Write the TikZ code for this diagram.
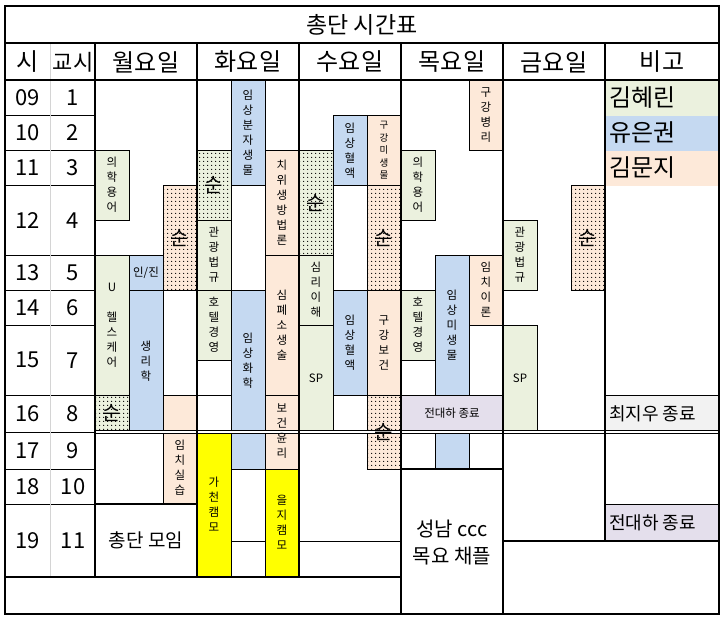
\documentclass[tikz,border=0pt]{standalone}
\usepackage{fontspec}
\setmainfont{Noto Sans CJK KR}
\usetikzlibrary{patterns.meta}
\definecolor{cgreen}{HTML}{EBF1DE}
\definecolor{cblue}{HTML}{C5D9F1}
\definecolor{cpink}{HTML}{FDE9D9}
\definecolor{cyel}{HTML}{FFFF00}
\definecolor{clav}{HTML}{E4DFEC}
\definecolor{cgray}{HTML}{F2F2F2}
\definecolor{csep}{HTML}{D4D4D4}
\newcommand\cbox[3]{\path[thinl,fill=#1] #2 rectangle #3;}
\newcommand\dbox[3]{\fill[#1] #2 rectangle #3;
  \fill[pattern={Dots[distance=4pt,radius=0.75pt]},pattern color=black] #2 rectangle #3;
  \draw[thinl] #2 rectangle #3;}
\begin{document}
\begin{tikzpicture}[x=1pt,y=-1pt,
  thinl/.style={draw=black,line width=1pt},
  thickl/.style={draw=black,line width=2pt},
  vt/.style={font=\fontsize{11.5}{15}\selectfont,align=center,inner sep=0pt},
  vts/.style={font=\fontsize{9.5}{12.5}\selectfont,align=center,inner sep=0pt},
  ht/.style={font=\fontsize{11.5}{14}\selectfont,inner sep=0pt},
  big/.style={font=\fontsize{22}{26}\selectfont,inner sep=0pt},
  head/.style={font=\fontsize{24}{28}\selectfont,inner sep=0pt},
  sun/.style={font=\fontsize{20}{24}\selectfont,inner sep=0pt},
  mid/.style={font=\fontsize{18}{22}\selectfont,inner sep=0pt},
]
\useasboundingbox (0,0) rectangle (726,621);
\fill[white] (0,0) rectangle (726,621);
% Monday
\cbox{cgreen}{(95,150.5)}{(129,220)}
\dbox{cpink}{(163,185.5)}{(197,290)}
\cbox{cgreen}{(95,255)}{(129,395)}
\cbox{cblue}{(129,255)}{(163,290)}
\cbox{cblue}{(129,290)}{(163,432)}
\dbox{cgreen}{(95,395)}{(129,432)}
\cbox{cpink}{(163,395)}{(197,432)}
\cbox{cpink}{(163,432)}{(197,504)}
% Tuesday
\dbox{cgreen}{(197,150.5)}{(231,220)}
\cbox{cgreen}{(197,220)}{(231,290)}
\cbox{cgreen}{(197,290)}{(231,360)}
\cbox{white}{(197,360)}{(231,395)}
\cbox{cblue}{(231,80)}{(265,185.5)}
\cbox{cblue}{(231,290)}{(265,469)}
\cbox{cpink}{(265,150.5)}{(299,255)}
\cbox{cpink}{(265,255)}{(299,395)}
\cbox{cpink}{(265,395)}{(299,469)}
\cbox{cyel}{(265,469)}{(299,577)}
\cbox{cyel}{(197,433)}{(231,577)}
\draw[thinl] (231,541) -- (265,541);
% Wednesday
\dbox{cgreen}{(299,150.5)}{(333,255)}
\cbox{cgreen}{(299,255)}{(333,325.5)}
\cbox{cgreen}{(299,325.5)}{(333,432)}
\cbox{cblue}{(333,115.5)}{(367,185.5)}
\cbox{cpink}{(367,115.5)}{(401,185.5)}
\dbox{cpink}{(367,185.5)}{(401,290)}
\cbox{cblue}{(333,290)}{(367,395)}
\cbox{cpink}{(367,290)}{(401,395)}
\dbox{cpink}{(367,395)}{(401,469)}
\draw[thinl] (299,541) -- (401,541);
% Thursday
\cbox{cpink}{(469,80)}{(503,150.5)}
\cbox{cgreen}{(401,150.5)}{(435,220)}
\cbox{cblue}{(435,255)}{(469,395)}
\cbox{cpink}{(469,255)}{(503,325.5)}
\cbox{cgreen}{(401,290)}{(435,360)}
\cbox{clav}{(401,395)}{(503,432)}
\cbox{cblue}{(435,432)}{(469,469)}
% Friday
\cbox{cgreen}{(503,220)}{(537,290)}
\dbox{cpink}{(571,185.5)}{(605,290)}
\cbox{cgreen}{(503,325.5)}{(537,432)}
% Remarks
\fill[cgreen] (605,80) rectangle (719,115.5);
\fill[cblue] (605,115.5) rectangle (719,150.5);
\fill[cpink] (605,150.5) rectangle (719,185.5);
\cbox{cgray}{(605,395)}{(719,432)}
\cbox{clav}{(605,504)}{(719,541)}
% double line
\draw[white,line width=2.4pt] (95,432.1) -- (719,432.1);
\draw[line width=0.9pt] (95,430.5) -- (719,430.5) (95,433.7) -- (719,433.7);
% left columns
\foreach \y in {115.5,150.5,185.5,255,290,325.5,395,432,469,504}
  \draw[thinl] (5,\y) -- (95,\y);
\draw[csep,line width=1pt] (50.7,43) -- (50.7,577);
% thick grid
\draw[thickl] (5,6) rectangle (719,614);
\draw[thickl] (5,43) -- (719,43);
\draw[thickl] (5,80) -- (719,80);
\draw[thickl] (95,43) -- (95,577);
\draw[thickl] (197,43) -- (197,577);
\draw[thickl] (299,43) -- (299,577);
\draw[thickl] (401,43) -- (401,614);
\draw[thickl] (503,43) -- (503,614);
\draw[thickl] (605,43) -- (605,541);
\draw[thickl] (5,577) -- (401,577);
\draw[thickl] (503,541) -- (719,541);
\draw[thickl] (95,504) -- (197,504);
\draw[thickl] (401,469) -- (503,469);
% title and header
\node[font=\fontsize{23}{27}\selectfont,inner sep=0pt] (title) at (362,25) {총단 시간표};
\node[head] (hsi) at (28,62) {시};
\node[font=\fontsize{22}{26}\selectfont,inner sep=0pt] (hgyo) at (73,62) {교시};
\node[head] (hmon) at (146,62) {월요일};
\node[head] (htue) at (248,62) {화요일};
\node[head] (hwed) at (350,62) {수요일};
\node[head] (hthu) at (452,62) {목요일};
\node[head] (hfri) at (554,62) {금요일};
\node[head] (hrem) at (662,62) {비고};
% hours and periods
\foreach \h/\p/\y [count=\i] in {09/1/97.75,10/2/133,11/3/168,12/4/220.25,13/5/272.5,14/6/307.75,15/7/360.25,16/8/413.5,17/9/450.5,18/10/486.5,19/11/540.5}{
  \node[big] (hour\i) at (28,\y) {\h};
  \node[big] (per\i) at (73,\y) {\p};
}
% Monday texts
\node[vt] (m1) at (112,185) {의\\학\\용\\어};
\node[sun] (m2) at (180,237.7) {순};
\node[vt] (m3) at (112,325) {U\\ \\헬\\스\\케\\어};
\node[ht] (m4) at (146,272.5) {인/진};
\node[vt] (m5) at (146,361) {생\\리\\학};
\node[sun] (m6) at (112,413.5) {순};
\node[vt] (m7) at (180,468) {임\\치\\실\\습};
\node[font=\fontsize{19}{23}\selectfont,inner sep=0pt] (m8) at (146,540.5) {총단 모임};
% Tuesday texts
\node[sun] (t1) at (214,185) {순};
\node[vt] (t2) at (214,255) {관\\광\\법\\규};
\node[vt] (t3) at (214,325) {호\\텔\\경\\영};
\node[vt] (t4) at (248,132.7) {임\\상\\분\\자\\생\\물};
\node[vt] (t5) at (248,361) {임\\상\\화\\학};
\node[vt] (t6) at (282,202.7) {치\\위\\생\\방\\법\\론};
\node[vt] (t7) at (282,325) {심\\폐\\소\\생\\술};
\node[vt] (t8) at (282,431) {보\\건\\윤\\리};
\node[vt] (t9) at (214,504.5) {가\\천\\캠\\모};
\node[vt] (t10) at (282,522) {을\\지\\캠\\모};
% Wednesday texts
\node[sun] (w1) at (316,202.7) {순};
\node[vt] (w2) at (316,290) {심\\리\\이\\해};
\node[ht] (w3) at (316,378.7) {SP};
\node[vt] (w4) at (350,150.5) {임\\상\\혈\\액};
\node[vts] (w5) at (384,150.5) {구\\강\\미\\생\\물};
\node[sun] (w6) at (384,237.7) {순};
\node[vt] (w7) at (350,342.5) {임\\상\\혈\\액};
\node[vt] (w8) at (384,342.5) {구\\강\\보\\건};
\node[sun] (w9) at (384,432) {순};
% Thursday texts
\node[vt] (r1) at (486,115) {구\\강\\병\\리};
\node[vt] (r2) at (418,185) {의\\학\\용\\어};
\node[vt] (r3) at (452,325) {임\\상\\미\\생\\물};
\node[vt] (r4) at (486,290) {임\\치\\이\\론};
\node[vt] (r5) at (418,325) {호\\텔\\경\\영};
\node[ht] (r6) at (452,413.5) {전대하 종료};
\node[font=\fontsize{20}{27}\selectfont,align=center,inner sep=0pt] (r7) at (452,543) {성남 ccc\\목요 채플};
% Friday texts
\node[vt] (f1) at (520,255) {관\\광\\법\\규};
\node[sun] (f2) at (588,237.7) {순};
\node[ht] (f3) at (520,378.7) {SP};
% Remarks texts
\node[head,anchor=west] (n1) at (609,97.75) {김혜린};
\node[head,anchor=west] (n2) at (609,133) {유은권};
\node[head,anchor=west] (n3) at (609,168) {김문지};
\node[mid,anchor=west] (n4) at (609,413.5) {최지우 종료};
\node[mid,anchor=west] (n5) at (609,522.5) {전대하 종료};
\end{tikzpicture}
\end{document}
